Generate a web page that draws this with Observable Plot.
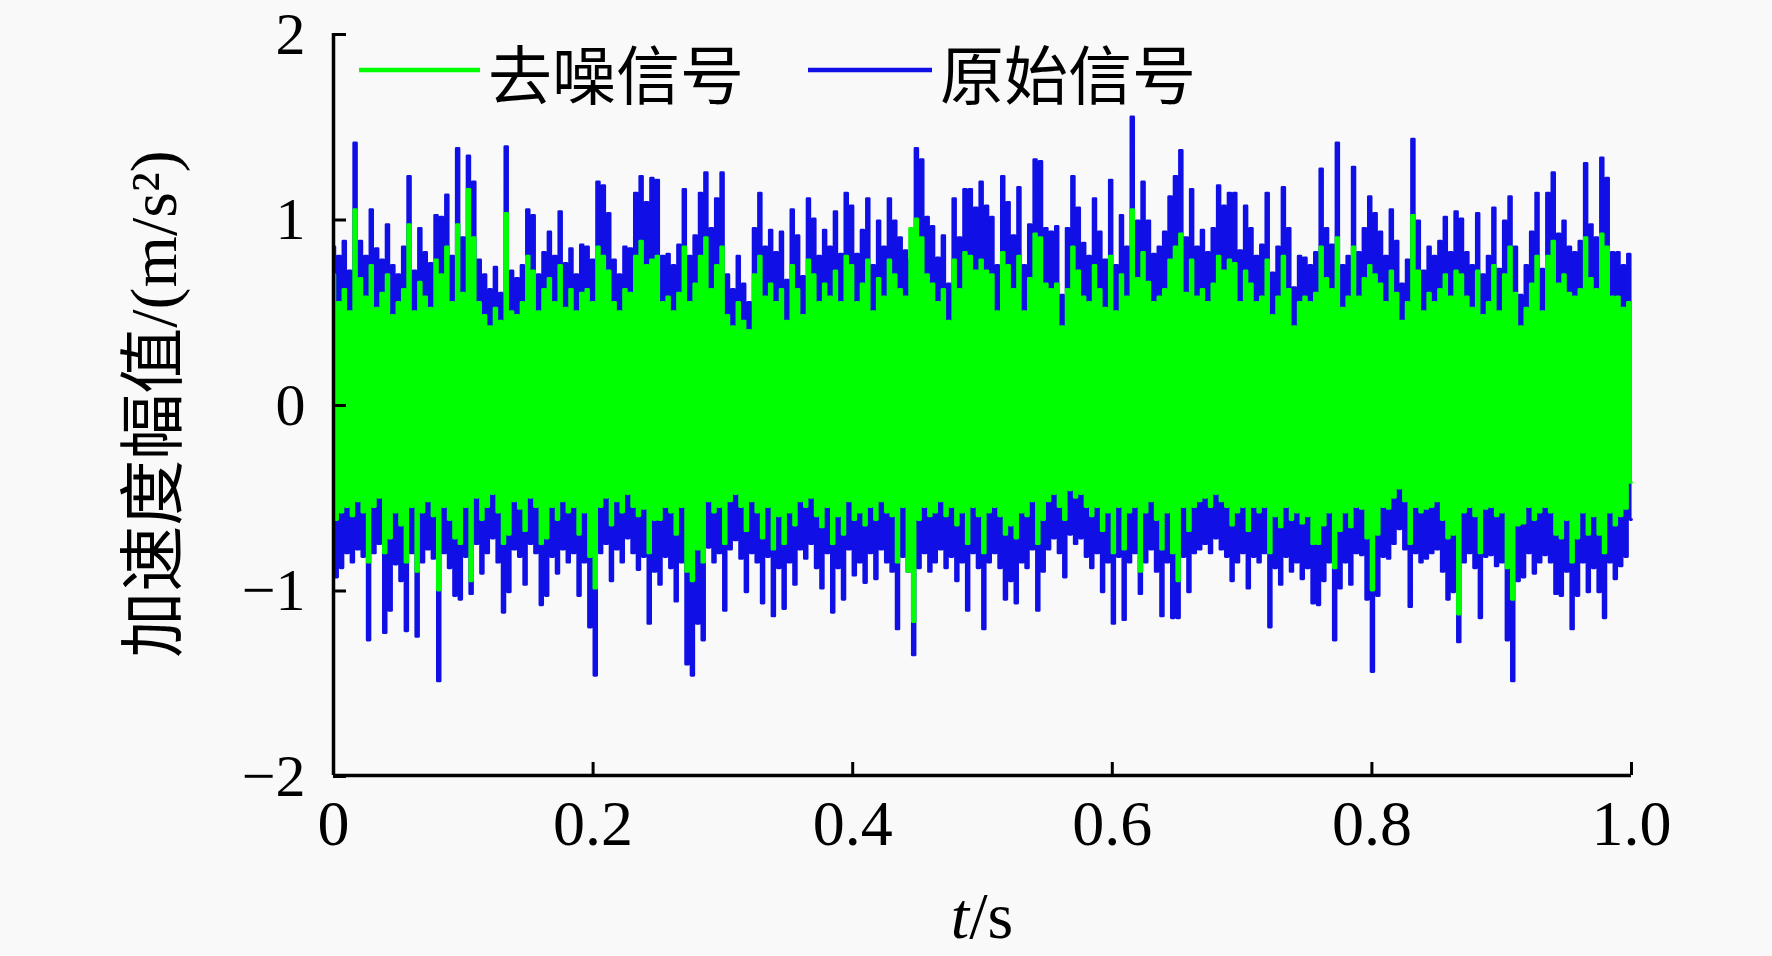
<!DOCTYPE html>
<html><head><meta charset="utf-8">
<script src="https://cdn.jsdelivr.net/npm/d3@7"></script>
<script src="https://cdn.jsdelivr.net/npm/@observablehq/plot@0.6"></script>
<style>
html,body{margin:0;padding:0;background:#f9f9f9;}
</style></head><body><div id="chart"></div>
<script>
// Upper / lower swing peaks of the original signal (原始信号), read left to right
const blueHigh = [
.85,.80,.88,.72,1.41,.88,.80,1.05,.84,.78,
.97,.75,.70,.85,1.23,.72,.95,.82,.76,1.02,
1.01,1.13,.80,1.38,.90,1.34,1.20,.78,.70,.62,
.74,.60,1.39,.72,.68,.75,1.05,1.02,.70,.82,
.93,.80,1.04,.76,.84,.70,.86,.85,.78,1.20,
1.18,1.03,.78,.70,.85,.84,1.14,1.23,1.09,1.22,
1.21,.80,.81,.75,.86,1.16,.80,.91,1.14,1.25,
.95,1.11,1.25,.70,.62,.80,.65,.55,.95,1.14,
.85,.94,.82,.93,.67,1.05,.91,.69,1.11,1.00,
.80,.94,.85,1.04,.81,1.14,1.07,.81,.94,1.11,
.75,.99,.85,1.11,.99,.90,.83,.78,1.38,1.32,
1.01,.96,.79,.91,.65,1.11,.90,1.16,1.16,1.06,
1.20,1.07,1.01,.75,1.23,1.09,.91,1.17,.75,.97,
1.32,1.31,.95,.93,.96,.59,.95,1.23,1.06,.87,
.80,1.11,.93,.78,1.21,.75,1.02,.85,1.55,.99,
1.20,.99,.81,.85,.93,1.12,1.23,1.37,.90,1.16,
.85,.94,.82,.95,1.18,1.07,1.14,1.14,.83,1.07,
.95,.80,.86,1.14,.71,.85,1.17,.95,.63,.80,
.79,.75,.82,1.27,.95,.86,1.41,.75,.80,1.28,
.82,.95,1.12,1.03,.93,.80,1.05,.88,.65,.78,
1.43,.99,.72,.85,.80,.88,1.01,.82,1.04,1.00,
.82,.75,1.03,.70,.80,1.06,.73,.99,1.12,.85,
.59,.75,.93,1.14,.73,1.14,1.25,.92,.99,.85,
.82,.88,1.30,.97,.90,1.33,1.22,.82,.82,.75,
.81];
const blueLow = [
-.93,-.88,-.80,-.85,-.78,-.82,-1.27,-.80,-.75,-1.23,
-1.11,-.86,-.95,-1.22,-.80,-1.25,-.85,-.78,-.83,-1.49,
-.80,-.88,-1.03,-1.05,-.82,-1.02,-.75,-.91,-.80,-.72,
-.85,-1.12,-1.01,-.78,-.82,-.97,-.75,-.80,-1.08,-1.03,
-.82,-.91,-.78,-.85,-.80,-1.03,-.85,-1.20,-1.46,-.80,
-.75,-.95,-.78,-.85,-.72,-.80,-.89,-.82,-1.18,-.90,
-.97,-.82,-.88,-1.06,-.85,-1.40,-1.46,-1.18,-1.27,-.77,
-.85,-.80,-1.11,-.78,-.73,-.83,-1.01,-.80,-.85,-1.07,
-.82,-1.14,-.88,-1.10,-.85,-.97,-.78,-.83,-.75,-.88,
-.99,-.80,-1.12,-.88,-1.05,-.78,-.92,-.85,-.96,-.80,
-.94,-.78,-.85,-.90,-1.21,-.82,-.90,-1.35,-.88,-.80,
-.90,-.85,-.78,-.88,-.82,-.95,-.85,-1.11,-.80,-.88,
-1.21,-.85,-.80,-.88,-1.05,-.95,-1.07,-.85,-.88,-.78,
-1.11,-.90,-.78,-.72,-.80,-.93,-.70,-.75,-.72,-.82,
-.88,-.80,-1.01,-.85,-1.18,-.82,-1.16,-.85,-.80,-1.02,
-.85,-.78,-.90,-1.14,-.85,-1.15,-1.15,-.82,-1.01,-.80,
-.78,-.75,-.80,-.72,-.78,-.82,-.95,-.85,-.80,-.99,
-.82,-.85,-.80,-1.20,-.88,-.97,-.82,-.90,-.85,-.94,
-.88,-1.07,-1.08,-.95,-.85,-1.27,-.99,-.85,-.97,-.80,
-.81,-1.05,-1.44,-1.03,-.82,-.83,-.75,-.67,-.78,-1.09,
-.80,-.85,-.83,-.80,-.78,-.90,-1.05,-1.01,-1.28,-.85,
-.80,-.88,-1.15,-.82,-.81,-.87,-.85,-1.27,-1.49,-.95,
-.93,-.80,-.91,-.85,-.81,-.85,-1.02,-1.03,-.90,-1.21,
-1.03,-.85,-1.01,-.88,-1.01,-1.15,-.85,-.94,-.87,-.82,
-.62];
// Upper / lower swing peaks of the denoised signal (去噪信号)
const greenHigh = [
.70,.55,.62,.50,1.05,.68,.58,.75,.52,.60,
.70,.48,.55,.62,.97,.50,.66,.58,.52,.78,
.70,.85,.55,.97,.60,1.16,.90,.55,.48,.42,
.52,.45,1.03,.50,.48,.55,.80,.72,.50,.62,
.68,.55,.75,.52,.62,.50,.60,.62,.55,.85,
.80,.72,.55,.50,.62,.60,.80,.88,.75,.78,
.80,.55,.58,.50,.60,.85,.55,.65,.80,.90,
.62,.75,.85,.48,.42,.55,.45,.40,.70,.80,
.58,.65,.55,.62,.45,.75,.62,.48,.78,.70,
.55,.65,.58,.72,.55,.80,.75,.55,.65,.78,
.50,.68,.58,.78,.70,.62,.58,.95,1.00,.90,
.70,.65,.55,.62,.45,.78,.62,.82,.80,.72,
.78,.72,.70,.50,.82,.75,.62,.80,.50,.68,
.92,.90,.65,.62,.65,.42,.62,.85,.72,.58,
.55,.75,.62,.52,.80,.50,.70,.58,1.05,.68,
.82,.66,.55,.58,.62,.78,.85,.92,.60,.78,
.58,.62,.55,.65,.80,.72,.78,.76,.55,.72,
.65,.55,.58,.78,.48,.58,.80,.62,.42,.55,
.58,.55,.60,.85,.68,.62,.90,.52,.58,.85,
.58,.68,.75,.70,.65,.55,.72,.60,.45,.55,
1.02,.72,.50,.60,.55,.62,.70,.58,.72,.70,
.58,.52,.72,.48,.55,.75,.50,.70,.85,.60,
.42,.52,.65,.80,.50,.80,.88,.65,.70,.60,
.58,.62,.90,.68,.62,.92,.85,.58,.58,.52,
.55];
const greenLow = [
-.62,-.58,-.55,-.60,-.52,-.58,-.85,-.55,-.50,-.80,
-.72,-.58,-.65,-.85,-.55,-.90,-.58,-.52,-.60,-1.00,
-.55,-.62,-.72,-.75,-.55,-.95,-.50,-.62,-.55,-.48,
-.58,-.75,-.70,-.52,-.56,-.68,-.50,-.55,-.75,-.72,
-.55,-.62,-.52,-.58,-.55,-.70,-.58,-.82,-.99,-.55,
-.50,-.65,-.52,-.58,-.48,-.55,-.60,-.56,-.80,-.62,
-.62,-.55,-.58,-.70,-.55,-.90,-.95,-.78,-.85,-.52,
-.58,-.55,-.75,-.52,-.48,-.55,-.68,-.52,-.58,-.72,
-.55,-.78,-.60,-.75,-.58,-.65,-.52,-.55,-.50,-.60,
-.66,-.55,-.75,-.60,-.70,-.52,-.62,-.58,-.65,-.55,
-.62,-.52,-.58,-.60,-.85,-.55,-.90,-1.17,-.62,-.55,
-.60,-.58,-.52,-.60,-.55,-.65,-.58,-.75,-.55,-.60,
-.80,-.58,-.55,-.60,-.70,-.65,-.72,-.58,-.60,-.52,
-.75,-.62,-.52,-.48,-.55,-.62,-.46,-.50,-.48,-.55,
-.60,-.55,-.68,-.58,-.80,-.55,-.78,-.58,-.55,-.90,
-.58,-.52,-.62,-.78,-.58,-.80,-.95,-.55,-.68,-.55,
-.52,-.50,-.55,-.48,-.52,-.55,-.65,-.58,-.55,-.68,
-.55,-.58,-.55,-.80,-.60,-.66,-.55,-.62,-.58,-.64,
-.60,-.75,-.75,-.65,-.58,-.88,-.68,-.58,-.66,-.55,
-.56,-.72,-1.00,-.70,-.55,-.56,-.50,-.45,-.52,-.75,
-.55,-.58,-.56,-.55,-.52,-.62,-.72,-.70,-1.13,-.58,
-.55,-.60,-.80,-.56,-.55,-.60,-.58,-.88,-1.05,-.65,
-.64,-.55,-.62,-.58,-.55,-.58,-.70,-.72,-.62,-.85,
-.72,-.58,-.70,-.60,-.70,-.80,-.58,-.65,-.60,-.56,
-.42];

const xTicks = [0, 0.2, 0.4, 0.6, 0.8, 1.0];
const xTickLabels = ["0", "0.2", "0.4", "0.6", "0.8", "1.0"];
const yTicks = [-2, -1, 0, 1, 2];
const yTickLabels = ["−2", "−1", "0", "1", "2"];
const seriesNames = ["去噪信号", "原始信号"];
const seriesColors = ["#00ff00", "#1010e6"];

function interleave(hi, lo) {
  const out = [];
  for (let i = 0; i < hi.length; i++) { out.push(hi[i]); if (i < lo.length) out.push(lo[i]); }
  return out;
}
const blueVals = interleave(blueHigh, blueLow);
const greenVals = interleave(greenHigh, greenLow);
const n = blueVals.length;
const original = blueVals.map((v, i) => ({t: i / (n - 1), a: v}));
const denoised = greenVals.map((v, i) => ({t: i / (n - 1), a: v}));

const serif = "'Liberation Serif','Times New Roman','Noto Sans CJK SC',serif";

const chart = Plot.plot({
  width: 1772, height: 956,
  marginLeft: 333, marginRight: 141, marginTop: 33, marginBottom: 181,
  style: {background: "#f9f9f9", fontFamily: serif, fontSize: "64px", color: "#000"},
  x: {domain: [0, 1]},
  y: {domain: [-2, 2]},
  marks: [
    Plot.lineY(original, {x: "t", y: "a", stroke: seriesColors[1], strokeWidth: 2.8, curve: "step"}),
    Plot.lineY(denoised, {x: "t", y: "a", stroke: seriesColors[0], strokeWidth: 2.8, curve: "step"}),
    Plot.ruleX([0], {stroke: "#000", strokeWidth: 3.5}),
    Plot.ruleY([-2], {stroke: "#000", strokeWidth: 3.5}),
    Plot.axisX({ticks: xTicks, tickFormat: d => xTickLabels[xTicks.indexOf(d)], tickSize: -13, tickPadding: 37, strokeWidth: 3, label: null, fontSize: 64}),
    Plot.axisY({ticks: yTicks, tickFormat: d => yTickLabels[yTicks.indexOf(d)], tickSize: -13, tickPadding: 41, strokeWidth: 3, label: null, fontSize: 60, dy: 1})
  ]
});
document.getElementById("chart").appendChild(chart);

const svg = d3.select(chart);
// legend inside the plot area
const legendPos = [{x1: 359, x2: 480, tx: 488}, {x1: 808, x2: 932, tx: 940}];
seriesNames.forEach((name, i) => {
  const p = legendPos[i];
  svg.append("line").attr("x1", p.x1).attr("x2", p.x2).attr("y1", 70).attr("y2", 70)
    .attr("stroke", seriesColors[i]).attr("stroke-width", 4.5);
  svg.append("text").attr("x", p.tx).attr("y", 71)
    .attr("text-anchor", "start").attr("dominant-baseline", "central")
    .style("font-family", "'Noto Sans CJK SC',sans-serif").style("font-size", "64px").attr("fill", "#000")
    .text(name);
});
// y label
svg.append("text").attr("transform", "translate(153,404) rotate(-90)")
  .attr("text-anchor", "middle").attr("dominant-baseline", "central")
  .style("font-family", serif).style("font-size", "66px").attr("fill", "#000")
  .text("加速度幅值/(m/s²)");
// x label
const xl = svg.append("text").attr("x", 982).attr("y", 938).attr("text-anchor", "middle")
  .style("font-family", serif).style("font-size", "66px").attr("fill", "#000");
xl.append("tspan").style("font-style", "italic").text("t");
xl.append("tspan").text("/s");
</script></body></html>
